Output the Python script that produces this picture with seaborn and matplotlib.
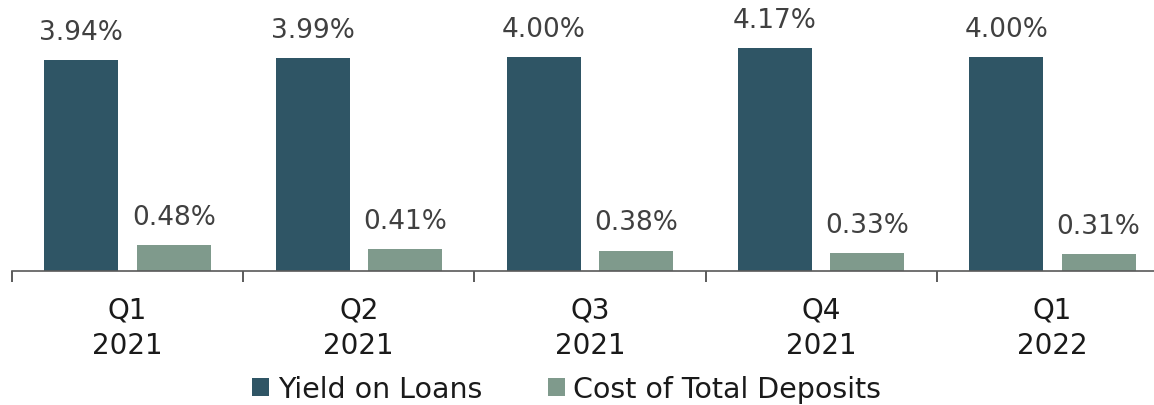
import pandas as pd
import matplotlib
matplotlib.use("Agg")
import matplotlib.pyplot as plt
import seaborn as sns

# Values
quarters = ["Q1\n2021", "Q2\n2021", "Q3\n2021", "Q4\n2021", "Q1\n2022"]
yield_on_loans = [3.94, 3.99, 4.00, 4.17, 4.00]
cost_of_deposits = [0.48, 0.41, 0.38, 0.33, 0.31]
series_names = ["Yield on Loans", "Cost of Total Deposits"]
colors = ["#2F5565", "#7F9A8C"]

df = pd.DataFrame({
    "quarter": quarters * 2,
    "series": [series_names[0]] * len(quarters) + [series_names[1]] * len(quarters),
    "value": yield_on_loans + cost_of_deposits,
})

sns.set_style("white")
plt.rcParams["font.family"] = ["DejaVu Sans"]
label_color = "#404040"
text_color = "#1a1a1a"

fig = plt.figure(figsize=(11.54, 4.06), dpi=100)
ax = fig.add_axes([12 / 1154, 134 / 406, 1156 / 1154, 272 / 406])

sns.barplot(data=df, x="quarter", y="value", hue="series", palette=colors,
            width=0.8, gap=0.2, saturation=1, linewidth=0, ax=ax, legend=True)

for cont in ax.containers:
    ax.bar_label(cont, labels=[f"{v:.2f}%" for v in cont.datavalues],
                 padding=11, fontsize=19, color=label_color)

ax.set_ylim(0, 5.09)
ax.set_xlim(-0.5, len(quarters) - 0.5)
ax.set_xlabel("")
ax.set_ylabel("")
ax.set_yticks([])

# group separators as ticks, labels at centres
ax.set_xticks([i - 0.5 for i in range(len(quarters) + 1)])
ax.set_xticklabels([])
ax.set_xticks(range(len(quarters)), minor=True)
ax.set_xticklabels(quarters, minor=True, fontsize=20, color=text_color,
                   linespacing=1.3)
ax.tick_params(axis="x", which="major", length=8, width=1.2, color="#404040",
               direction="out", bottom=True)
ax.tick_params(axis="x", which="minor", length=0, pad=18)

for s in ["top", "right", "left"]:
    ax.spines[s].set_visible(False)
ax.spines["bottom"].set_color("#595959")
ax.spines["bottom"].set_linewidth(1.2)

handles, labels = ax.get_legend_handles_labels()
ax.get_legend().remove()
fig.legend(handles, labels, loc="center", bbox_to_anchor=(0.491, 0.04), ncol=2,
           frameon=False, fontsize=20.5, handlelength=0.6, handleheight=0.6,
           handletextpad=0.3, columnspacing=2.3, labelcolor=text_color)

fig.savefig("out.png", dpi=100)
